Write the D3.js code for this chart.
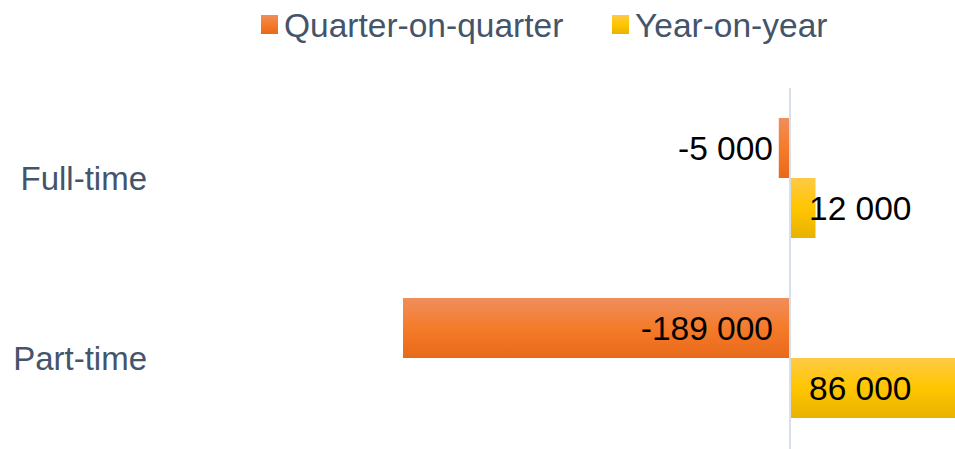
<!DOCTYPE html>
<html><head><meta charset="utf-8">
<script src="https://cdn.jsdelivr.net/npm/d3@7/dist/d3.min.js"></script>
<style>body{margin:0;background:#fff}svg{display:block;font-family:"Liberation Sans",Arial,sans-serif}</style>
</head><body><svg id="c" width="955" height="449"></svg>
<script>
const categories = ["Full-time", "Part-time"];
const seriesNames = ["Quarter-on-quarter", "Year-on-year"];
const quarterOnQuarter = [-5000, -189000];
const yearOnYear = [12000, 86000];
const valueLabels = [["-5 000", "12 000"], ["-189 000", "86 000"]];

const W = 955, H = 449;
const svg = d3.select("#c");
const defs = svg.append("defs");
function grad(id, stops){
  const g = defs.append("linearGradient").attr("id", id).attr("x1",0).attr("y1",0).attr("x2",0).attr("y2",1);
  stops.forEach(s => g.append("stop").attr("offset", s[0]).attr("stop-color", s[1]));
}
grad("gO", [[0,"#f08e5c"],[0.5,"#f47b2a"],[1,"#e8691b"]]);
grad("gY", [[0,"#ffca45"],[0.5,"#ffc600"],[1,"#e8b200"]]);
const fills = ["url(#gO)", "url(#gY)"];

const k = 386/189000;
const zeroX = 790;
const x = d3.scaleLinear().domain([-200000, 100000]).range([zeroX - 200000*k, zeroX + 100000*k]);
const y0 = d3.scaleBand().domain(categories).range([88, 448]).paddingInner(1/3).paddingOuter(1/6);
const y1 = d3.scaleBand().domain(seriesNames).range([0, y0.bandwidth()]);

const data = categories.map((c,i) => ({cat:c, vals:[quarterOnQuarter[i], yearOnYear[i]], labels:valueLabels[i]}));

// axis line
svg.append("line").attr("x1", x(0)).attr("x2", x(0)).attr("y1", 88).attr("y2", H)
  .attr("stroke", "#d9dfe7").attr("stroke-width", 2);

const g = svg.append("g");
data.forEach(d => {
  d.vals.forEach((v, j) => {
    const yy = y0(d.cat) + y1(seriesNames[j]);
    g.append("rect")
      .attr("x", Math.min(x(0), x(v)) + (v>0?1:-1))
      .attr("width", Math.abs(x(v) - x(0)))
      .attr("y", yy).attr("height", y1.bandwidth())
      .attr("fill", fills[j]);
    g.append("text")
      .attr("x", v < 0 ? x(0) - 17 : x(0) + 19)
      .attr("y", yy + y1.bandwidth()/2)
      .attr("dy", "0.35em")
      .attr("text-anchor", v < 0 ? "end" : "start")
      .attr("font-size", 33.5).attr("fill", "#000")
      .text(d.labels[j]);
  });
  svg.append("text").attr("x", 147).attr("y", y0(d.cat) + y0.bandwidth()/2)
    .attr("dy", "0.35em").attr("text-anchor", "end")
    .attr("font-size", 33).attr("fill", "#44546a").text(d.cat);
});

// legend
const legX = [261, 612];
seriesNames.forEach((s, j) => {
  svg.append("rect").attr("x", legX[j]).attr("y", 15).attr("width", 17).attr("height", 19).attr("fill", fills[j]);
  svg.append("text").attr("x", legX[j] + 23).attr("y", 25).attr("dy", "0.35em")
    .attr("font-size", 33.5).attr("fill", "#44546a").text(s);
});
</script></body></html>
